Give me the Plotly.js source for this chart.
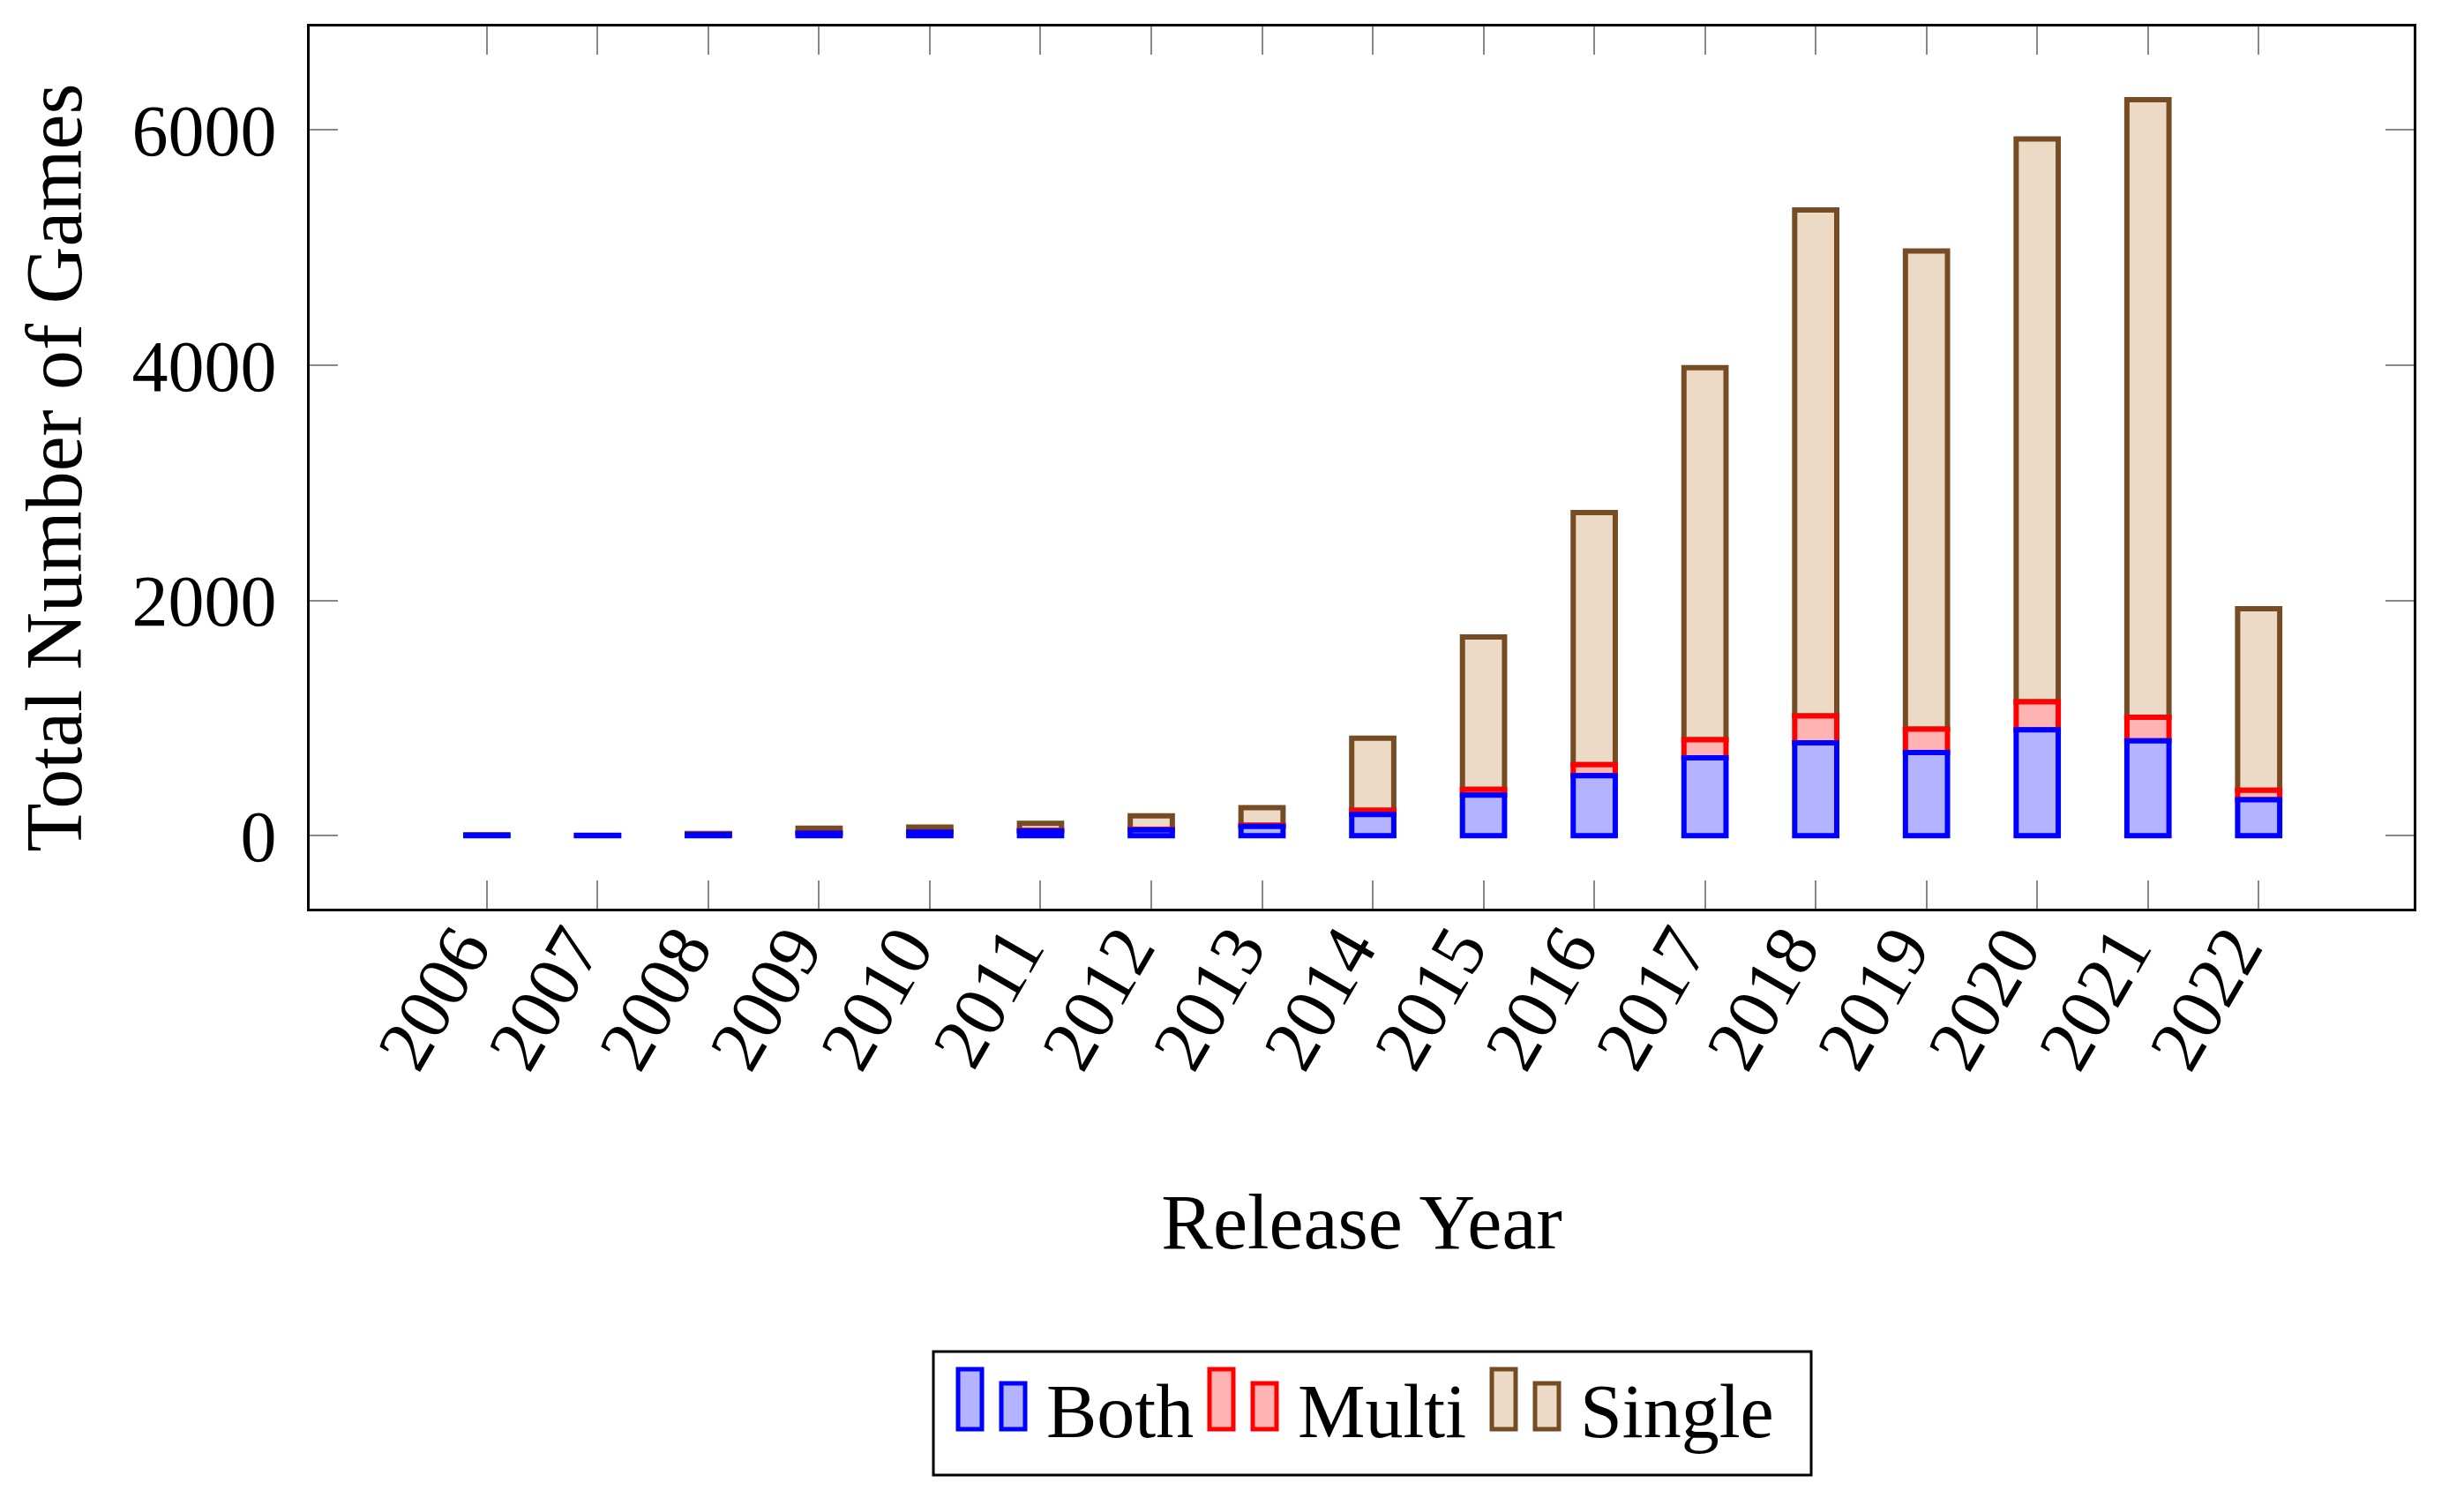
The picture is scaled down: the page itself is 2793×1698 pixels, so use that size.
<!DOCTYPE html>
<html>
<head>
<meta charset="utf-8">
<script src="https://cdn.plot.ly/plotly-3.0.1.min.js"></script>
<style>html,body{margin:0;padding:0;background:#fff;}#chart{width:2793px;height:1698px;}</style>
</head>
<body>
<div id="chart"></div>
<script>
const years = ['2006','2007','2008','2009','2010','2011','2012','2013','2014','2015','2016','2017','2018','2019','2020','2021','2022'];
const bothGames = [5, 3, 10, 22, 30, 40, 50, 80, 180, 346, 511, 662, 790, 707, 900, 807, 306];
const multiGames = [0, 0, 2, 2, 3, 5, 5, 8, 37, 48, 93, 155, 228, 200, 238, 201, 80];
const singleGames = [3, 2, 8, 41, 40, 60, 115, 150, 613, 1296, 2143, 3163, 4302, 4064, 4785, 5250, 1544];
const yTicks = [0, 2000, 4000, 6000];
const seriesNames = ['Both', 'Multi', 'Single'];

const FONT = '"Liberation Serif", "DejaVu Serif", serif';
const BW = 0.38;
const COLORS = {
  Both:   {fill:'#b3b3ff', line:'#0000ff'},
  Multi:  {fill:'#ffb3b3', line:'#ff0000'},
  Single: {fill:'#ecd9c6', line:'#754c24'}
};

// stacked bases (stack order Both -> Multi -> Single, drawn in reverse so lower strokes sit on top)
const multiBase = bothGames.slice();
const singleBase = bothGames.map((v, i) => v + multiGames[i]);

const traces = [
  {type:'bar', name:'Single', x:years, y:singleGames, base:singleBase, width:BW,
   marker:{color:COLORS.Single.fill, line:{color:COLORS.Single.line, width:6}}},
  {type:'bar', name:'Multi', x:years, y:multiGames, base:multiBase, width:BW,
   marker:{color:COLORS.Multi.fill, line:{color:COLORS.Multi.line, width:6}}},
  {type:'bar', name:'Both', x:years, y:bothGames, width:BW,
   marker:{color:COLORS.Both.fill, line:{color:COLORS.Both.line, width:6}}}
];

// layout geometry
const W = 2793, H = 1698, ML = 351, MR = 57, MT = 30, MB = 668;
const PW = W - ML - MR, PH = H - MT - MB;
const px2x = p => (p - ML) / PW;
const px2y = p => (H - MB - p) / PH;

// custom legend (two bar icons per entry, as in the reference)
const shapes = [];
const annotations = [];
shapes.push({type:'rect', xref:'paper', yref:'paper',
  x0:px2x(1058), x1:px2x(2053), y0:px2y(1672), y1:px2y(1532),
  line:{color:'#000', width:3}, fillcolor:'#fff', layer:'above'});
const legendX = [1084, 1369, 1689];
seriesNames.forEach((name, k) => {
  const x0 = legendX[k];
  const c = COLORS[name];
  shapes.push({type:'rect', xref:'paper', yref:'paper',
    x0:px2x(x0 + 2), x1:px2x(x0 + 29), y0:px2y(1620), y1:px2y(1552),
    line:{color:c.line, width:5}, fillcolor:c.fill, layer:'above'});
  shapes.push({type:'rect', xref:'paper', yref:'paper',
    x0:px2x(x0 + 51), x1:px2x(x0 + 78), y0:px2y(1620), y1:px2y(1568),
    line:{color:c.line, width:5}, fillcolor:c.fill, layer:'above'});
  annotations.push({xref:'paper', yref:'paper', x:px2x(x0 + 100), y:px2y(1600),
    xanchor:'left', yanchor:'middle', text:name, showarrow:false,
    font:{family:FONT, size:86, color:'#000'}});
});

const layout = {
  width:W, height:H,
  paper_bgcolor:'#fff', plot_bgcolor:'#fff',
  margin:{l:ML, r:MR, t:MT, b:MB},
  barmode:'overlay',
  font:{family:FONT, size:82, color:'#000'},
  showlegend:false,
  shapes:shapes,
  annotations:annotations,
  xaxis:{
    type:'category', range:[-1.6, 17.4],
    tickangle:-60, ticks:'inside', ticklen:32, tickwidth:2, tickcolor:'#888',
    showline:true, linecolor:'#000', linewidth:3, mirror:'allticks',
    showgrid:false, zeroline:false,
    ticklabelstandoff:-40, ticklabelshift:-30,
    tickfont:{family:FONT, size:84},
    title:{text:'Release Year', font:{family:FONT, size:88}, standoff:128}
  },
  yaxis:{
    range:[-620, 6880], tickvals:yTicks, ticktext:yTicks.map(String),
    ticks:'inside', ticklen:32, tickwidth:2, tickcolor:'#888',
    showline:true, linecolor:'#000', linewidth:3, mirror:'allticks',
    showgrid:false, zeroline:false, ticklabelstandoff:18,
    tickfont:{family:FONT, size:82},
    title:{text:'Total Number of Games', font:{family:FONT, size:90}, standoff:28}
  }
};

Plotly.newPlot('chart', traces, layout, {staticPlot:true, displayModeBar:false});
</script>
</body>
</html>
